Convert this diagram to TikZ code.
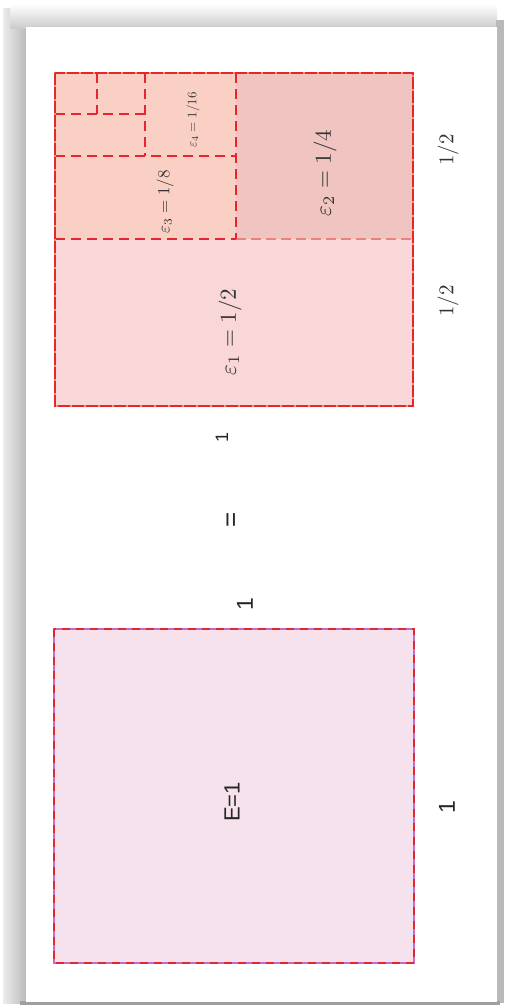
\documentclass[tikz,border=0pt]{standalone}
\usepackage{fontspec}
\newfontfamily\lsans{Liberation Sans}
\definecolor{redline}{RGB}{228,38,46}
\definecolor{orangeline}{RGB}{240,150,90}
\definecolor{violetline}{RGB}{190,110,200}
\definecolor{fillE}{RGB}{246,226,236}
\definecolor{fillA}{RGB}{249,214,215}
\definecolor{fillB}{RGB}{240,196,192}
\definecolor{fillC}{RGB}{250,208,196}
\definecolor{pinkline}{RGB}{235,130,130}
\tikzset{
  outerline/.style={draw=redline, line width=1.6pt, dash pattern=on 12pt off 2pt},
  innerline/.style={draw=redline, line width=2pt, dash pattern=on 10pt off 6pt},
  softline/.style={draw=pinkline, line width=1.2pt, dash pattern=on 10pt off 5pt},
  mathlab/.style={rotate=90, inner sep=0pt, text=black!80},
  sanslab/.style={rotate=90, inner sep=0pt, text=black!85},
}
\begin{document}
\begin{tikzpicture}[x=1pt, y=-1pt]
\useasboundingbox (0,0) rectangle (504,1005);
% shadow of the card
\shade[left color=gray!15, right color=gray!55] (3,8) rectangle (27,1003);
\shade[top color=white, bottom color=gray!40] (10,4) rectangle (497,28);
\fill[gray!55] (496,20) rectangle (504,1003);
\fill[gray!75] (20,1001) rectangle (500,1005);
% card
\fill[white] (26,27) rectangle (497,1002);

% right square, subdivided
\fill[fillA] (55,239) rectangle (413,406);
\fill[fillB] (236,73) rectangle (413,239);
\fill[fillC] (55,73) rectangle (236,239);
\draw[softline] (236,239) -- (413,239);
\draw[innerline] (55,239) -- (236,239);
\draw[innerline] (236,73) -- (236,239);
\draw[innerline] (55,156) -- (236,156);
\draw[innerline] (145,73) -- (145,156);
\draw[innerline] (55,114) -- (145,114);
\draw[innerline] (97,73) -- (97,114);
\draw[draw=orangeline, line width=1.6pt] (55,73) rectangle (413,406);
\draw[outerline] (55,73) rectangle (413,406);

\node[mathlab] (e1) at (230,332) {\scalebox{2.3}{$\varepsilon_1 = 1/2$}};
\node[mathlab] (e2) at (325,173) {\scalebox{2.3}{$\varepsilon_2 = 1/4$}};
\node[mathlab] (e3) at (165,202) {\scalebox{1.7}{$\varepsilon_3 = 1/8$}};
\node[mathlab] (e4) at (193,120) {\scalebox{1.3}{$\varepsilon_4 = 1/16$}};
\node[mathlab] (h1) at (448,301) {\scalebox{2.1}{$1/2$}};
\node[mathlab] (h2) at (448,150) {\scalebox{2.1}{$1/2$}};

% middle labels
\node[sanslab] (one1) at (222,437) {\lsans\scalebox{1.8}{1}};
\node[sanslab] (eq) at (233,520) {\lsans\scalebox{2.6}{=}};
\node[sanslab] (one2) at (245,604) {\lsans\scalebox{2.3}{1}};

% left square
\fill[fillE] (54,629) rectangle (414,963);
\draw[draw=violetline, line width=1.6pt] (54,629) rectangle (414,963);
\draw[draw=redline, line width=1.6pt, dash pattern=on 8pt off 6pt] (54,629) rectangle (414,963);
\node[sanslab] (E) at (232,802) {\lsans\scalebox{2.2}{E=1}};
\node[sanslab] (one3) at (447,807) {\lsans\scalebox{2.3}{1}};
\end{tikzpicture}
\end{document}
